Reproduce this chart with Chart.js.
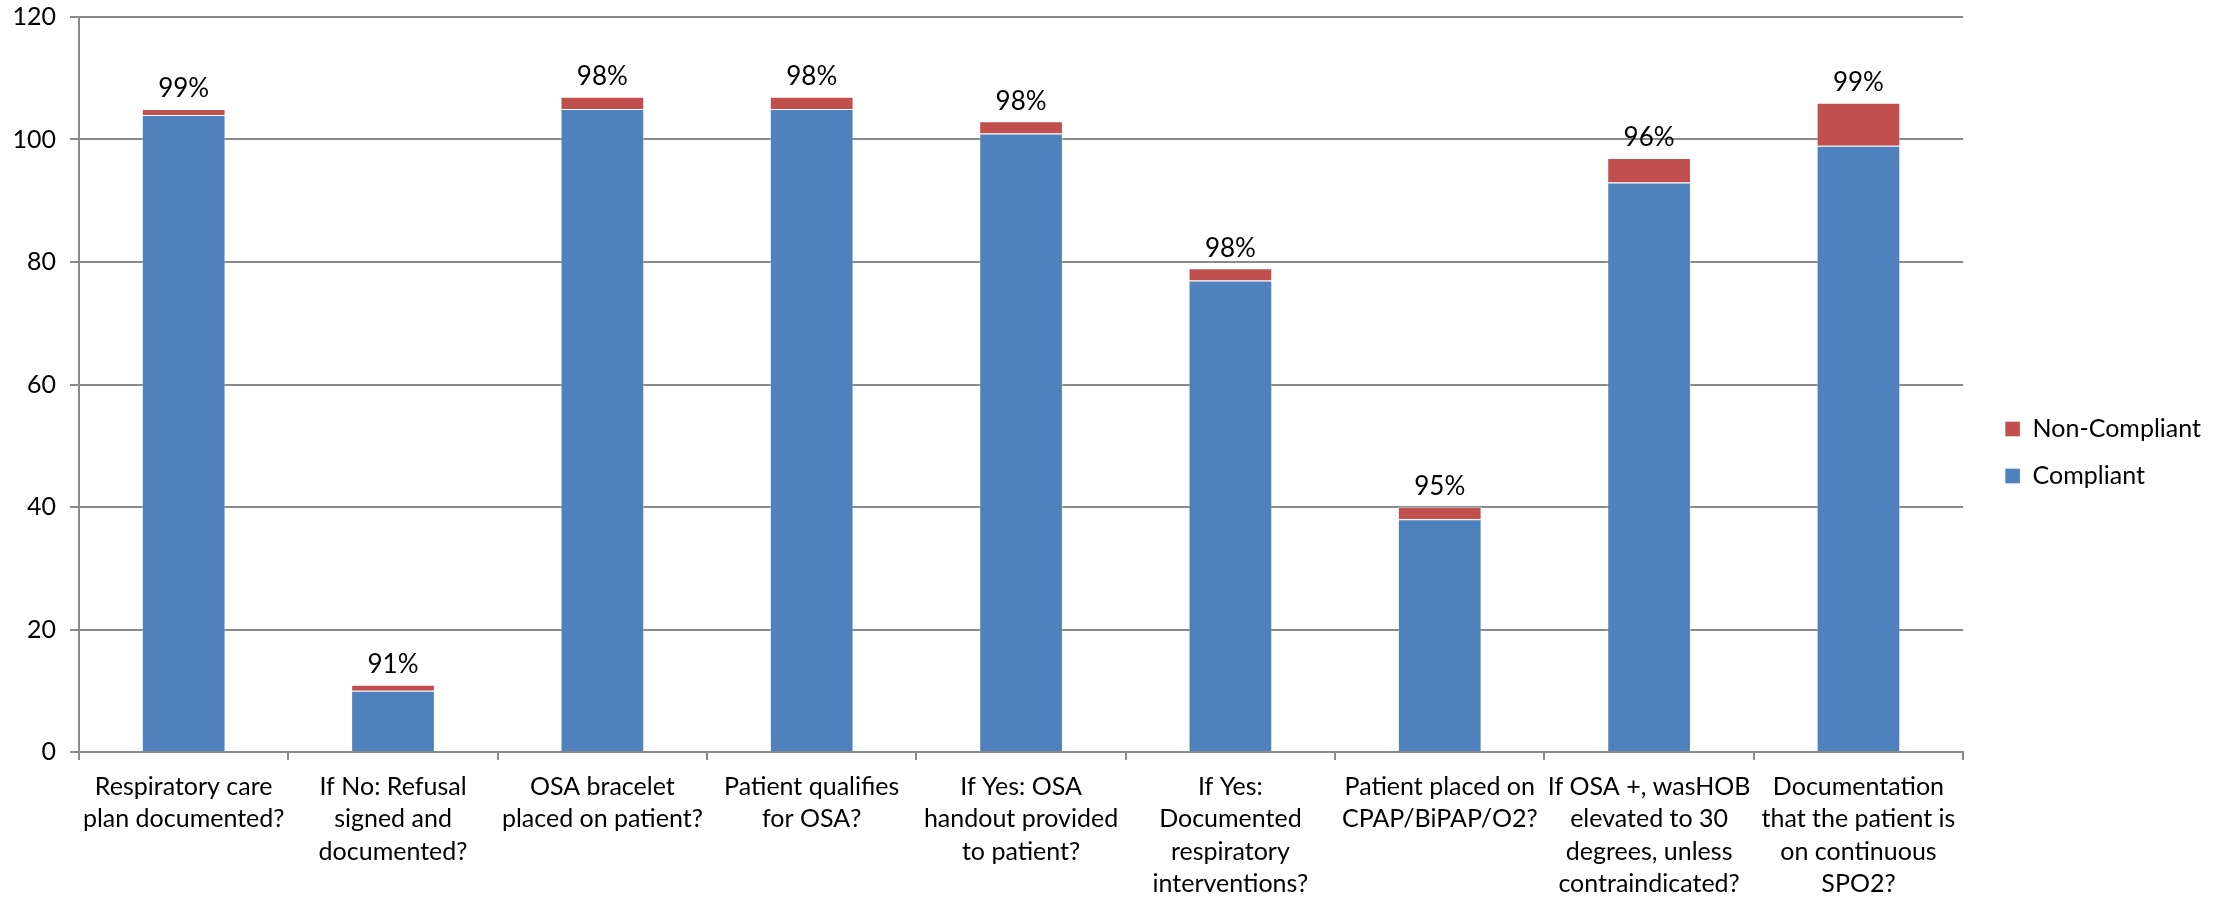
<!DOCTYPE html>
<html>
<head>
<meta charset="utf-8">
<title>OSA Compliance</title>
<script src="https://cdn.jsdelivr.net/npm/chart.js@4.4.1/dist/chart.umd.min.js"></script>
<style>
    html, body { margin: 0; padding: 0; background: #ffffff; }
    .chart-wrap { width: 2216px; height: 898px; position: relative; }
</style>
</head>
<body>
<div class="chart-wrap">
    <canvas id="complianceChart" width="2216" height="898"></canvas>
</div>
<script>
var categories = [
    ["Respiratory care", "plan documented?"],
    ["If No: Refusal", "signed and", "documented?"],
    ["OSA bracelet", "placed on patient?"],
    ["Patient qualifies", "for OSA?"],
    ["If Yes: OSA", "handout provided", "to patient?"],
    ["If Yes:", "Documented", "respiratory", "interventions?"],
    ["Patient placed on", "CPAP/BiPAP/O2?"],
    ["If OSA +, wasHOB", "elevated to 30", "degrees, unless", "contraindicated?"],
    ["Documentation", "that the patient is", "on continuous", "SPO2?"]
];
var compliant = [104, 10, 105, 105, 101, 77, 38, 93, 99];
var nonCompliant = [1, 1, 2, 2, 2, 2, 2, 4, 7];
var percentLabels = ["99%", "91%", "98%", "98%", "98%", "98%", "95%", "96%", "99%"];
var yMin = 0;
var yMax = 120;
var yStep = 20;

document.addEventListener("DOMContentLoaded", function () {
    var fontFamily = "Lato, 'Noto Sans', sans-serif";
    var gridColor = '#8a8a8a';

    // percent text above each stacked column
    var topLabels = {
        id: 'topLabels',
        afterDatasetsDraw: function (chart) {
            var ctx = chart.ctx;
            var meta = chart.getDatasetMeta(1);
            ctx.save();
            ctx.font = "26px " + fontFamily;
            ctx.fillStyle = '#000000';
            ctx.textAlign = 'center';
            ctx.textBaseline = 'middle';
            meta.data.forEach(function (bar, i) {
                ctx.fillText(percentLabels[i], bar.x, bar.y - 20);
            });
            ctx.restore();
        }
    };

    // nudge the legend away from the plot like the original
    var legendShift = {
        id: 'legendShift',
        afterLayout: function (chart) {
            if (chart.legend) {
                chart.legend.left += 20;
                chart.legend.right += 20;
                chart.legend.top -= 5;
                chart.legend.bottom -= 5;
            }
        }
    };

    var ctx = document.getElementById('complianceChart').getContext('2d');
    new Chart(ctx, {
        type: 'bar',
        data: {
            labels: categories,
            datasets: [
                {
                    label: 'Compliant',
                    data: compliant,
                    backgroundColor: '#4f81bd',
                    borderColor: 'rgba(255,255,255,0.35)',
                    borderWidth: 1,
                    barPercentage: 0.4,
                    categoryPercentage: 1.0
                },
                {
                    label: 'Non-Compliant',
                    data: nonCompliant,
                    backgroundColor: '#c0504d',
                    borderColor: 'rgba(255,255,255,0.35)',
                    borderWidth: 1,
                    barPercentage: 0.4,
                    categoryPercentage: 1.0
                }
            ]
        },
        options: {
            responsive: false,
            animation: false,
            layout: { padding: { top: 17, right: 25, bottom: 0, left: 0 } },
            plugins: {
                tooltip: { enabled: false },
                legend: {
                    position: 'right',
                    reverse: true,
                    maxWidth: 230,
                    labels: {
                        boxWidth: 15,
                        boxHeight: 15,
                        padding: 22,
                        color: '#000000',
                        font: { family: fontFamily, size: 25 }
                    }
                }
            },
            scales: {
                x: {
                    stacked: true,
                    grid: {
                        display: true,
                        drawOnChartArea: false,
                        offset: true,
                        color: gridColor,
                        lineWidth: 2,
                        tickLength: 8
                    },
                    border: { color: gridColor, width: 2 },
                    ticks: {
                        autoSkip: false,
                        maxRotation: 0,
                        minRotation: 0,
                        padding: 11,
                        color: '#000000',
                        font: { family: fontFamily, size: 25, lineHeight: 1.29 }
                    },
                    afterFit: function (scale) { scale.height = 146; }
                },
                y: {
                    stacked: true,
                    min: yMin,
                    max: yMax,
                    grid: {
                        color: gridColor,
                        lineWidth: 2,
                        tickLength: 9
                    },
                    border: { color: gridColor, width: 2 },
                    ticks: {
                        stepSize: yStep,
                        padding: 14,
                        color: '#000000',
                        font: { family: fontFamily, size: 25 }
                    },
                    afterFit: function (scale) {
                        scale.width = 79;
                        scale.paddingTop = 0;
                        scale.paddingBottom = 0;
                    }
                }
            }
        },
        plugins: [topLabels, legendShift]
    });
});
</script>
</body>
</html>
